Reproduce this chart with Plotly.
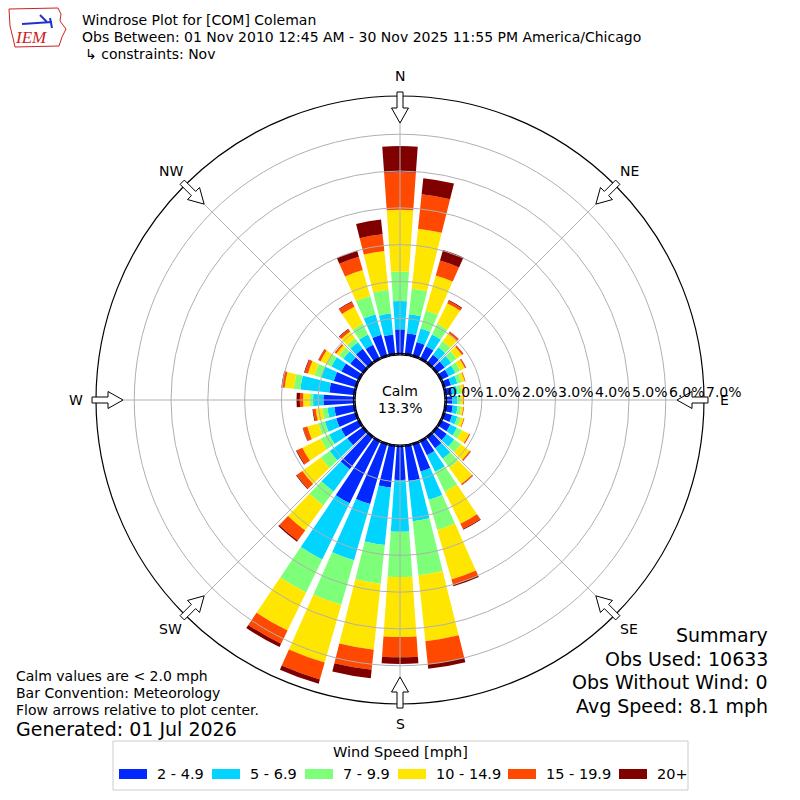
import numpy as np
import plotly.graph_objects as go

# wind directions (deg, meteorological) and speed bins
directions = list(range(0, 360, 10))
speed_labels = ["2 - 4.9", "5 - 6.9", "7 - 9.9", "10 - 14.9", "15 - 19.9", "20+"]
speed_colors = ["#0028ff", "#00d4ff", "#7dff7a", "#ffe600", "#ff4800", "#800000"]

# percent of obs per direction, one list per speed bin
pct_2_5 = [0.70, 0.60, 0.42, 0.40, 0.30, 0.28, 0.25, 0.22, 0.20, 0.20, 0.22, 0.25,
           0.30, 0.35, 0.40, 0.45, 0.80, 0.99, 0.95, 1.17, 1.72, 1.90, 1.10, 0.55,
           0.56, 0.58, 0.57, 0.86, 0.71, 0.65, 0.55, 0.45, 0.50, 0.45, 0.62, 0.57]
pct_5_7 = [0.77, 0.52, 0.38, 0.36, 0.25, 0.22, 0.20, 0.18, 0.15, 0.13, 0.13, 0.15,
           0.20, 0.25, 0.35, 0.50, 0.80, 1.10, 1.41, 1.57, 1.59, 1.70, 0.75, 0.59,
           0.36, 0.32, 0.19, 0.28, 0.79, 0.35, 0.30, 0.23, 0.22, 0.31, 0.58, 0.57]
pct_7_10 = [0.80, 0.70, 0.51, 0.32, 0.20, 0.18, 0.15, 0.12, 0.11, 0.10, 0.10, 0.10,
            0.15, 0.22, 0.30, 0.60, 0.85, 1.48, 1.23, 1.06, 1.26, 1.00, 0.47, 0.30,
            0.26, 0.19, 0.14, 0.09, 0.18, 0.19, 0.15, 0.14, 0.13, 0.32, 0.52, 0.65]
pct_10_15 = [1.68, 1.64, 0.99, 0.62, 0.27, 0.18, 0.14, 0.09, 0.07, 0.07, 0.06, 0.08,
             0.22, 0.30, 0.55, 0.97, 1.40, 1.80, 1.63, 1.80, 1.63, 1.15, 0.84, 0.62,
             0.55, 0.31, 0.18, 0.18, 0.25, 0.19, 0.18, 0.10, 0.23, 0.52, 0.73, 1.06]
pct_15_20 = [1.02, 0.94, 0.42, 0.08, 0.05, 0.04, 0.03, 0.02, 0.02, 0.02, 0.02, 0.02,
             0.03, 0.03, 0.03, 0.16, 0.15, 0.63, 0.55, 0.55, 0.48, 0.40, 0.34, 0.19,
             0.17, 0.12, 0.07, 0.09, 0.07, 0.09, 0.06, 0.05, 0.07, 0.14, 0.38, 0.46]
pct_20_up = [0.71, 0.44, 0.30, 0.02, 0.01, 0.01, 0.01, 0.00, 0.00, 0.00, 0.00, 0.00,
             0.00, 0.01, 0.01, 0.02, 0.04, 0.12, 0.18, 0.23, 0.12, 0.10, 0.04, 0.02,
             0.02, 0.01, 0.02, 0.09, 0.02, 0.02, 0.01, 0.00, 0.02, 0.02, 0.17, 0.40]
series = [pct_2_5, pct_5_7, pct_7_10, pct_10_15, pct_15_20, pct_20_up]

ring_labels = ["0.0%", "1.0%", "2.0%", "3.0%", "4.0%", "5.0%", "6.0%", "7.0%"]
compass = [("N", 0), ("NE", 45), ("E", 90), ("SE", 135), ("S", 180), ("SW", 225), ("W", 270), ("NW", 315)]
calm_pct = "13.3%"

title_lines = ["Windrose Plot for [COM] Coleman",
               "Obs Between: 01 Nov 2010 12:45 AM - 30 Nov 2025 11:55 PM America/Chicago",
               "\u21b3 constraints: Nov"]
notes = ["Calm values are < 2.0 mph", "Bar Convention: Meteorology", "Flow arrows relative to plot center."]
generated = "Generated: 01 Jul 2026"
summary = ["Summary", "Obs Used: 10633", "Obs Without Wind: 0", "Avg Speed: 8.1 mph"]

# geometry in page pixels
W = H = 800
CX, CY = 400, 400
R_OUT = 304
R_HOLE = 45
RMAX = 7.04
PXP = (R_OUT - R_HOLE) / RMAX
FONT = "DejaVu Sans"
GRID = "#b0b0b0"


def px(x):
    return x / W


def py(y):
    return 1 - y / H


def polar_pt(deg, r):
    a = np.radians(deg)
    return CX + r * np.sin(a), CY - r * np.cos(a)


def note(x, y, text, size=14, xanchor="left", color="black", family=FONT):
    return dict(x=px(x), y=py(y), xref="paper", yref="paper", text=text, showarrow=False,
                xanchor=xanchor, yanchor="middle", font=dict(size=size, color=color, family=family))


fig = go.Figure()
for name, vals, col in zip(speed_labels, series, speed_colors):
    fig.add_trace(go.Barpolar(r=vals, theta=directions, width=8, name=name,
                              marker=dict(color=col, line=dict(width=0)), showlegend=False))

shapes = []
# grid drawn over the bars, like matplotlib
for i in range(1, 7):
    rr = R_HOLE + i * PXP
    shapes.append(dict(type="circle", xref="paper", yref="paper", layer="above",
                       x0=px(CX - rr), x1=px(CX + rr), y0=py(CY + rr), y1=py(CY - rr),
                       line=dict(color=GRID, width=1)))
for _, deg in compass:
    x0, y0 = polar_pt(deg, R_HOLE)
    x1, y1 = polar_pt(deg, R_OUT)
    shapes.append(dict(type="line", xref="paper", yref="paper", layer="above",
                       x0=px(x0), y0=py(y0), x1=px(x1), y1=py(y1), line=dict(color=GRID, width=1)))

# hole outline
shapes.append(dict(type="circle", xref="paper", yref="paper", layer="above",
                   x0=px(CX - R_HOLE - 1.5), x1=px(CX + R_HOLE + 1.5),
                   y0=py(CY + R_HOLE + 1.5), y1=py(CY - R_HOLE - 1.5),
                   line=dict(color="black", width=1.3)))

# flow arrows on the rim, pointing inward
for _, deg in compass:
    a = np.radians(deg)
    out = np.array([np.sin(a), -np.cos(a)])
    perp = np.array([np.cos(a), np.sin(a)])
    pts = [(308, -3), (292, -3), (292, -8.5), (277, 0), (292, 8.5), (292, 3), (308, 3)]
    path = ""
    for k, (s, t) in enumerate(pts):
        p = np.array([CX, CY]) + s * out + t * perp
        path += ("M" if k == 0 else "L") + f"{px(p[0]):.5f},{py(p[1]):.5f} "
    path += "Z"
    shapes.append(dict(type="path", path=path, xref="paper", yref="paper", layer="above",
                       fillcolor="white", line=dict(color="black", width=1)))

# legend box and swatches
shapes.append(dict(type="rect", xref="paper", yref="paper", layer="above",
                   x0=px(113), x1=px(688), y0=py(790), y1=py(741),
                   line=dict(color="#cccccc", width=1), fillcolor="white"))
sw_x = [119, 212, 305, 398, 508, 619]
for x0, col in zip(sw_x, speed_colors):
    shapes.append(dict(type="rect", xref="paper", yref="paper", layer="above",
                       x0=px(x0), x1=px(x0 + 28), y0=py(779), y1=py(769),
                       line=dict(width=0), fillcolor=col))

# IEM logo, roughly
iowa = [(9, 9), (58, 8), (61, 14), (60, 21), (66, 29), (62, 37), (59, 46), (15, 47), (13, 38), (10, 26)]
shapes.append(dict(type="path", xref="paper", yref="paper", layer="above",
                   path="M" + " L".join(f"{px(x):.5f},{py(y):.5f}" for x, y in iowa) + " Z",
                   line=dict(color="#cc2222", width=1)))
for (xa, ya, xb, yb) in [(22, 24, 52, 22), (40, 15, 47, 22), (50, 18, 52, 28)]:
    shapes.append(dict(type="line", xref="paper", yref="paper", layer="above",
                       x0=px(xa), y0=py(ya), x1=px(xb), y1=py(yb), line=dict(color="#2233cc", width=2)))

ann = []
ann.append(note(31, 38, "<i>IEM</i>", size=17, xanchor="center", color="#cc2222", family="Liberation Serif"))
for k, t in enumerate(title_lines):
    ann.append(note(80 if k < 2 else 83, 20 + 17 * k, t, size=14))
for k, t in enumerate(notes):
    ann.append(note(14, 676 + 17 * k, t, size=14))
ann.append(note(14, 729, generated, size=19))
for k, t in enumerate(summary):
    ann.append(note(770, 635 + 23.5 * k, t, size=19, xanchor="right"))
for name, deg in compass:
    lx, ly = polar_pt(deg, 324)
    ann.append(note(lx, ly, name, size=14, xanchor="center"))
for i, t in enumerate(ring_labels):
    ann.append(note(CX + R_HOLE + i * PXP + 1, 392, t, size=14))
ann.append(note(CX, 391, "Calm", size=14, xanchor="center"))
ann.append(note(CX, 408, calm_pct, size=14, xanchor="center"))
ann.append(note(400, 752, "Wind Speed [mph]", size=14.5, xanchor="center"))
for x0, lab in zip(sw_x, speed_labels):
    ann.append(note(x0 + 36, 774, lab, size=14.5))

fig.update_layout(
    width=W, height=H,
    margin=dict(l=0, r=0, t=0, b=0),
    paper_bgcolor="white",
    showlegend=False,
    font=dict(family=FONT, color="black"),
    polar=dict(
        domain=dict(x=[0.12, 0.88], y=[0.12, 0.88]),
        hole=R_HOLE / R_OUT,
        bgcolor="white",
        barmode="stack",
        radialaxis=dict(range=[0, RMAX], showgrid=False, showticklabels=False, ticks="", showline=False),
        angularaxis=dict(rotation=90, direction="clockwise", showgrid=False, showticklabels=False,
                         ticks="", showline=True, linecolor="black", linewidth=1.2),
    ),
    shapes=shapes,
    annotations=ann,
)

fig.write_html("out.html", config={"displayModeBar": False},
               post_script="document.body.style.margin='0';")
